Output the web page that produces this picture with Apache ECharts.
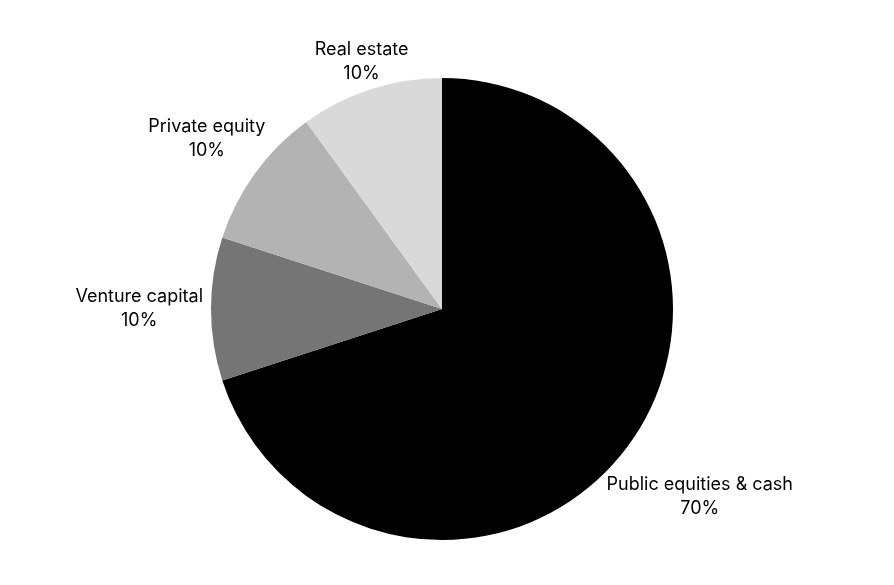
<!DOCTYPE html>
<html>
<head>
<meta charset="utf-8">
<script src="https://cdn.jsdelivr.net/npm/echarts@6/dist/echarts.min.js"></script>
<style>
  html, body { margin: 0; padding: 0; background: #fff; }
  #main { width: 894px; height: 585px; }
</style>
</head>
<body>
<div id="main"></div>
<script>
// datos del gráfico
var categories = ['Public equities & cash', 'Venture capital', 'Private equity', 'Real estate'];
var shares = [70, 10, 10, 10];
var sliceColors = ['#000000', '#757575', '#b3b3b3', '#d9d9d9'];

var chartDom = document.getElementById('main');
var myChart = echarts.init(chartDom);
var option;

var cx = 442, cy = 309, R = 231;
var total = shares.reduce(function (a, b) { return a + b; }, 0);

// etiquetas centradas, empujadas hacia afuera segun su tamaño
function placeLabel(params) {
  var i = params.dataIndex;
  var before = 0;
  for (var k = 0; k < i; k++) before += shares[k];
  var mid = (before + shares[i] / 2) / total * Math.PI * 2;
  var dx = Math.sin(mid), dy = -Math.cos(mid);
  var w = params.labelRect.width, h = params.labelRect.height;
  var off = R + 8 + Math.abs(dx) * w / 2 + Math.abs(dy) * h * 0.15;
  return {
    x: cx + dx * off,
    y: cy + dy * off,
    align: 'center',
    verticalAlign: 'middle'
  };
}

option = {
  backgroundColor: '#ffffff',
  animation: false,
  series: [
    {
      type: 'pie',
      center: [cx, cy],
      radius: R,
      startAngle: 90,
      clockwise: true,
      data: categories.map(function (name, i) {
        return { name: name, value: shares[i], itemStyle: { color: sliceColors[i] } };
      }),
      label: {
        show: true,
        position: 'outside',
        formatter: '{b}\n{d}%',
        fontFamily: 'Inter',
        fontSize: 18,
        lineHeight: 24,
        color: '#000000'
      },
      labelLine: { show: false, length: 0, length2: 0 },
      labelLayout: placeLabel,
      emphasis: { disabled: true }
    }
  ]
};

option && myChart.setOption(option);
</script>
</body>
</html>
